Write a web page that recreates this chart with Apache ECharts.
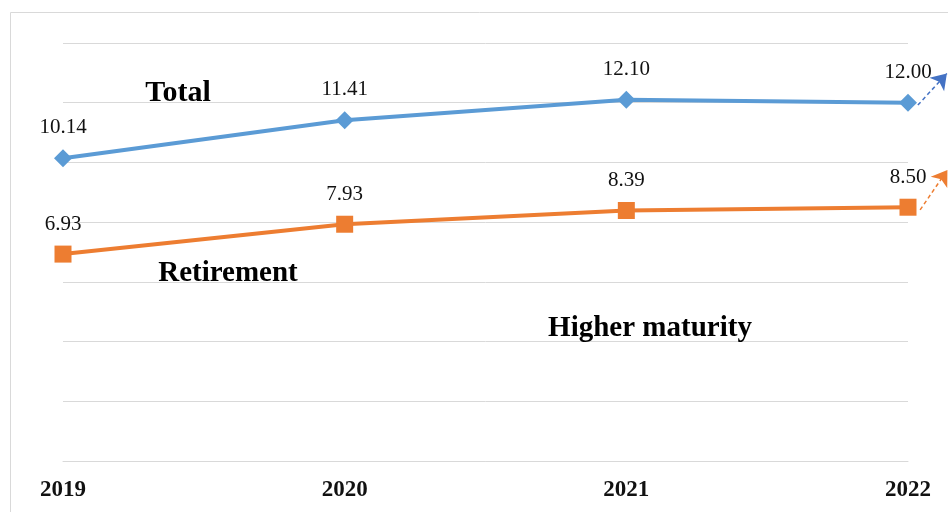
<!DOCTYPE html>
<html><head><meta charset="utf-8">
<script src="https://cdn.jsdelivr.net/npm/echarts@6/dist/echarts.min.js"></script>
<style>html,body{margin:0;padding:0;background:#fff}#c{width:948px;height:512px}</style>
</head><body><div id="c"></div>
<script>
const years = [2019, 2020, 2021, 2022];
const totalValues = [10.14, 11.41, 12.10, 12.00];
const retirementValues = [6.93, 7.93, 8.39, 8.50];
// dashed trend arrows leaving the 2022 markers (estimated start/end points)
const totalArrowStart = [2022.035, 11.92];
const totalArrowEnd = [2022.138, 12.98];
const retirementArrowStart = [2022.043, 8.41];
const retirementArrowEnd = [2022.14, 9.75];
const annotations = ['Total', 'Retirement', 'Higher maturity'];

const serif = '"Liberation Serif", "Times New Roman", serif';
const chart = echarts.init(document.getElementById('c'));
const lbl = {show: true, position: 'top', distance: 11, fontFamily: serif, fontSize: 21, color: '#111',
  formatter: p => p.value[1].toFixed(2)};
const note = (txt, x, y, size) => ({type: 'text', x: x, y: y, z: 100,
  style: {text: txt, font: 'bold ' + size + 'px ' + serif, fill: '#000', textAlign: 'center', textVerticalAlign: 'middle'}});
chart.setOption({
  animation: false,
  grid: {left: 63, right: 40, top: 43, bottom: 51},
  xAxis: {type: 'value', min: 2019, max: 2022, interval: 1,
    axisLine: {show: true, lineStyle: {color: '#d9d9d9', width: 1}},
    axisTick: {show: false}, splitLine: {show: false},
    axisLabel: {margin: 18, fontFamily: serif, fontWeight: 'bold', fontSize: 23, color: '#111',
      formatter: v => String(v)}},
  yAxis: {type: 'value', min: 0, max: 14, interval: 2,
    axisLabel: {show: false}, axisLine: {show: false}, axisTick: {show: false},
    splitLine: {lineStyle: {color: '#d9d9d9', width: 1}}},
  graphic: [
    {type: 'rect', z: 1, shape: {x: 10.5, y: 12.5, width: 960, height: 520}, style: {fill: 'none', stroke: '#d9d9d9', lineWidth: 1}, silent: true},
    note(annotations[0], 178, 93, 30),
    note(annotations[1], 228, 274, 29),
    note(annotations[2], 650, 329, 29)
  ],
  series: [
    {name: 'Total', type: 'line', clip: false, data: years.map((y, i) => [y, totalValues[i]]),
      symbol: 'diamond', symbolSize: 18, lineStyle: {color: '#5B9BD5', width: 4},
      itemStyle: {color: '#5B9BD5'}, label: lbl, z: 3},
    {name: 'Retirement', type: 'line', clip: false, data: years.map((y, i) => [y, retirementValues[i]]),
      symbol: 'rect', symbolSize: 17, lineStyle: {color: '#ED7D31', width: 4},
      itemStyle: {color: '#ED7D31'}, label: lbl, z: 3},
    {name: 'Trend', type: 'lines', coordinateSystem: 'cartesian2d', clip: false, z: 2,
      symbol: ['none', 'arrow'], symbolSize: [13, 15], silent: true,
      lineStyle: {type: [4, 3], width: 1.5, opacity: 1},
      data: [
        {coords: [totalArrowStart, totalArrowEnd], lineStyle: {color: '#4472C4'}},
        {coords: [retirementArrowStart, retirementArrowEnd], lineStyle: {color: '#ED7D31'}}
      ]}
  ]
});
</script></body></html>
